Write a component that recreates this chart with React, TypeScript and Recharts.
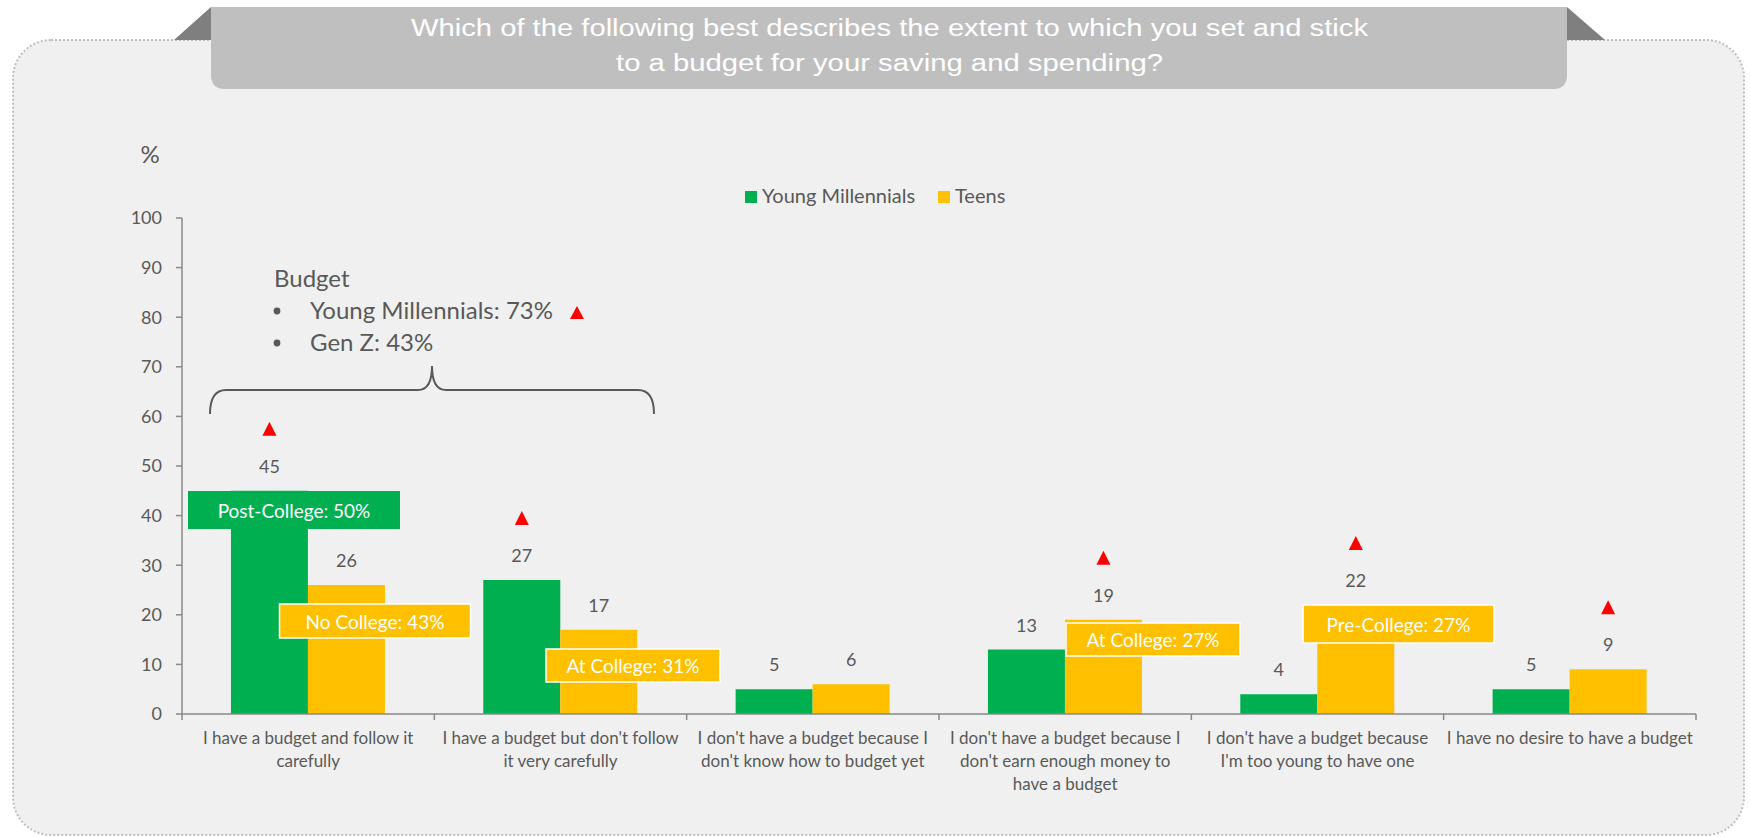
import React from 'react';
import { BarChart, Bar, XAxis, YAxis, LabelList } from 'recharts';

// categories (line breaks as in the original axis labels)
const categories = [
  'I have a budget and follow it\ncarefully',
  "I have a budget but don't follow\nit very carefully",
  "I don't have a budget because I\ndon't know how to budget yet",
  "I don't have a budget because I\ndon't earn enough money to\nhave a budget",
  "I don't have a budget because\nI'm too young to have one",
  'I have no desire to have a budget',
];
const youngMillennials = [45, 27, 5, 13, 4, 5];
const teens = [26, 17, 6, 19, 22, 9];
// significantly higher than the other group (red triangle)
const youngMillennialsSig = [true, true, false, false, false, false];
const teensSig = [false, false, false, true, true, true];
const yTicks = [0, 10, 20, 30, 40, 50, 60, 70, 80, 90, 100];
const seriesNames = ['Young Millennials', 'Teens'];

const titleLines = [
  'Which of the following best describes the extent to which you set and stick',
  'to a budget for your saving and spending?',
];
const budgetNote = ['Budget', 'Young Millennials: 73%', 'Gen Z: 43%'];
const callouts = ['Post-College: 50%', 'No College: 43%', 'At College: 31%', 'At College: 27%', 'Pre-College: 27%'];

const GREEN = '#00B050';
const YELLOW = '#FFC000';
const TEXT = '#595959';
const AXIS = '#898989';
const FONT = 'Lato, "Open Sans", sans-serif';

const W = 1750;
const H = 837;
const PLOT_LEFT = 182;
const PLOT_RIGHT = 1696;
const PLOT_TOP = 218;
const PLOT_BOTTOM = 714;
const BAND = (PLOT_RIGHT - PLOT_LEFT) / categories.length;

const data = categories.map((name, i) => ({
  name,
  youngMillennials: youngMillennials[i],
  teens: teens[i],
}));

const CategoryTick = (props: any) => {
  const { x, payload, index } = props;
  const lines = String(payload.value).split('\n');
  const half = BAND / 2;
  return (
    <g>
      <line x1={x - half} x2={x - half} y1={PLOT_BOTTOM} y2={PLOT_BOTTOM + 6} stroke={AXIS} strokeWidth={1.5} />
      {index === categories.length - 1 && (
        <line x1={x + half} x2={x + half} y1={PLOT_BOTTOM} y2={PLOT_BOTTOM + 6} stroke={AXIS} strokeWidth={1.5} />
      )}
      <text x={x} y={PLOT_BOTTOM + 30} textAnchor="middle" fill={TEXT} fontSize={17} fontFamily={FONT}>
        {lines.map((l, i) => (
          <tspan key={i} x={x} dy={i === 0 ? 0 : 23}>
            {l}
          </tspan>
        ))}
      </text>
    </g>
  );
};

const sigMark = (flags: boolean[]) => (props: any) => {
  const x = props.x ?? props.viewBox?.x;
  const y = props.y ?? props.viewBox?.y;
  const width = props.width ?? props.viewBox?.width;
  if (!flags[props.index]) return null;
  const cx = x + width / 2;
  const cy = y - 62;
  return <polygon points={`${cx - 7},${cy + 7} ${cx},${cy - 7} ${cx + 7},${cy + 7}`} fill="#FF0000" />;
};

const Callout = ({ x, y, w, h, text, fill, border }: any) => (
  <g>
    <rect x={x} y={y} width={w} height={h} fill={fill} stroke={border ? '#FFFFFF' : 'none'} strokeWidth={1.5} />
    <text x={x + w / 2} y={y + h / 2} textAnchor="middle" dominantBaseline="central" fill="#FFFFFF" fontSize={19} fontFamily={FONT}>
      {text}
    </text>
  </g>
);

export default function App() {
  return (
    <div style={{ position: 'absolute', left: 0, top: 0, width: W, height: H, background: '#FFFFFF' }}>
      {/* panel + title banner */}
      <svg width={W} height={H} style={{ position: 'absolute', left: 0, top: 0 }}>
        <rect x={13} y={40} width={1731} height={795} rx={38} fill="#F0F0F0" stroke="#BFBFBF" strokeWidth={2} strokeDasharray="2 2" />
        <polygon points="174,40 211,7 211,40" fill="#7F7F7F" />
        <polygon points="1567,7 1605,40 1567,40" fill="#7F7F7F" />
        <path d="M211,7 H1567 V75 Q1567,89 1553,89 H225 Q211,89 211,75 Z" fill="#BFBFBF" />
        <text x={411} y={36} textLength={957} lengthAdjust="spacingAndGlyphs" fill="#FFFFFF" fontSize={23} fontFamily='"Liberation Sans", Arial, sans-serif'>
          {titleLines[0]}
        </text>
        <text x={616} y={71} textLength={547} lengthAdjust="spacingAndGlyphs" fill="#FFFFFF" fontSize={23} fontFamily='"Liberation Sans", Arial, sans-serif'>
          {titleLines[1]}
        </text>
      </svg>

      <div style={{ position: 'absolute', left: 0, top: 0 }}>
        <BarChart
          width={W}
          height={H}
          data={data}
          margin={{ top: PLOT_TOP, right: W - PLOT_RIGHT, bottom: 43, left: PLOT_LEFT - 60 }}
          barCategoryGap="19.4%"
          barGap={0}
        >
          <XAxis
            dataKey="name"
            height={80}
            interval={0}
            tickLine={false}
            axisLine={{ stroke: AXIS, strokeWidth: 1.5 }}
            tick={<CategoryTick />}
          />
          <YAxis
            width={60}
            domain={[0, 100]}
            ticks={yTicks}
            interval={0}
            tickSize={6}
            tickMargin={14}
            axisLine={{ stroke: AXIS, strokeWidth: 1.5 }}
            tickLine={{ stroke: AXIS, strokeWidth: 1.5 }}
            tick={{ fill: TEXT, fontSize: 18, fontFamily: FONT }}
          />
          <Bar dataKey="youngMillennials" name={seriesNames[0]} fill={GREEN} isAnimationActive={false}>
            <LabelList dataKey="youngMillennials" position="top" offset={18} fill={TEXT} fontSize={18} fontFamily={FONT} />
            <LabelList dataKey="youngMillennials" content={sigMark(youngMillennialsSig)} />
          </Bar>
          <Bar dataKey="teens" name={seriesNames[1]} fill={YELLOW} isAnimationActive={false}>
            <LabelList dataKey="teens" position="top" offset={18} fill={TEXT} fontSize={18} fontFamily={FONT} />
            <LabelList dataKey="teens" content={sigMark(teensSig)} />
          </Bar>
        </BarChart>
      </div>

      {/* legend, notes and callouts */}
      <svg width={W} height={H} style={{ position: 'absolute', left: 0, top: 0, pointerEvents: 'none' }}>
        <text x={150} y={163} textAnchor="middle" fill={TEXT} fontSize={24} fontFamily={FONT}>%</text>

        <rect x={745} y={191} width={12} height={12} fill={GREEN} />
        <text x={762} y={203} fill={TEXT} fontSize={20} fontFamily={FONT}>{seriesNames[0]}</text>
        <rect x={938} y={191} width={12} height={12} fill={YELLOW} />
        <text x={955} y={203} fill={TEXT} fontSize={20} fontFamily={FONT}>{seriesNames[1]}</text>

        <text x={274} y={287} fill={TEXT} fontSize={24} fontFamily={FONT}>{budgetNote[0]}</text>
        <circle cx={277} cy={311} r={3.4} fill={TEXT} />
        <text x={310} y={319} fill={TEXT} fontSize={24} fontFamily={FONT}>{budgetNote[1]}</text>
        <polygon points="570,319 577,306 584,319" fill="#FF0000" />
        <circle cx={277} cy={343} r={3.4} fill={TEXT} />
        <text x={310} y={351} fill={TEXT} fontSize={24} fontFamily={FONT}>{budgetNote[2]}</text>
        <path
          d="M210,414 Q210,390 226,390 H418 Q432,390 432,366 Q432,390 446,390 H638 Q654,390 654,414"
          fill="none"
          stroke={TEXT}
          strokeWidth={2}
        />

        <Callout x={188} y={491} w={212} h={38} text={callouts[0]} fill={GREEN} />
        <Callout x={279.5} y={604} w={191} h={34} text={callouts[1]} fill={YELLOW} border />
        <Callout x={546} y={649} w={174} h={33} text={callouts[2]} fill={YELLOW} border />
        <Callout x={1066} y={623} w={174} h={33} text={callouts[3]} fill={YELLOW} border />
        <Callout x={1303} y={605} w={191} h={38} text={callouts[4]} fill={YELLOW} border />
      </svg>
    </div>
  );
}
